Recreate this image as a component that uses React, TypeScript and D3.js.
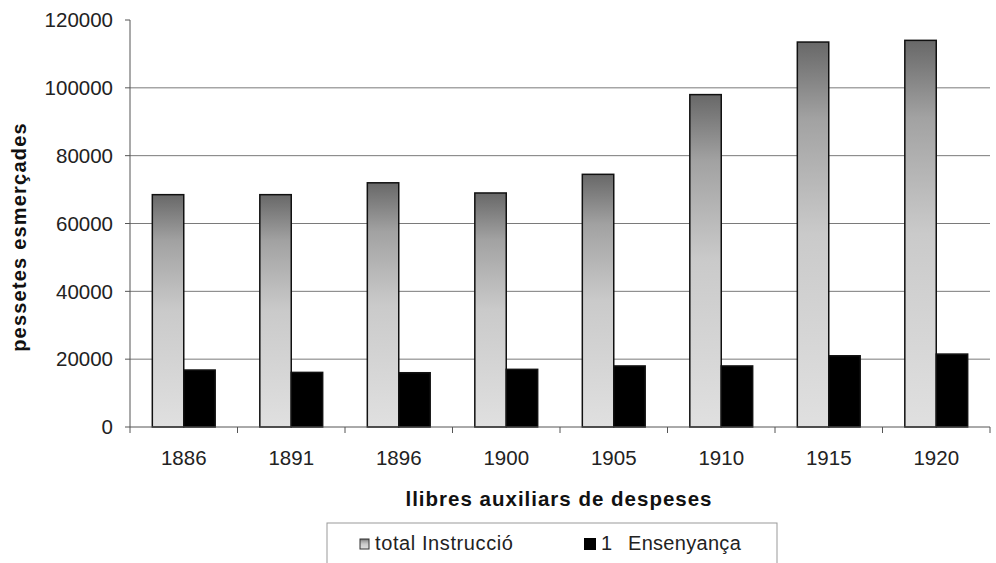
import * as d3 from "d3";

const years = ["1886", "1891", "1896", "1900", "1905", "1910", "1915", "1920"];
const totalInstruccio = [68500, 68500, 72000, 69000, 74500, 98000, 113500, 114000];
const ensenyanca = [16800, 16100, 16000, 17000, 18000, 18000, 21000, 21500];
const yTicks = [0, 20000, 40000, 60000, 80000, 100000, 120000];
const seriesNames = ["total Instrucció", "1  Ensenyança"];

const width = 996;
const height = 563;
const marginLeft = 130;
const marginRight = 6;
const marginTop = 20;
const plotBottom = 427;

export default function App() {
  const x = d3.scaleBand(years, [marginLeft, width - marginRight]);
  const x1 = d3
    .scaleBand(["total", "ens"], [0, x.bandwidth()])
    .paddingInner(0)
    .paddingOuter(0.71);
  const y = d3.scaleLinear([0, 120000], [plotBottom, marginTop]);

  const rows = years.map((yr, i) => ({
    year: yr,
    total: totalInstruccio[i],
    ens: ensenyanca[i],
  }));

  // "1  Ensenyança" -> number and word drawn a little apart, as in the original
  const [ensNum, ensWord] = seriesNames[1].split(/\s+/);

  return (
    <svg
      width={width}
      height={height}
      style={{ position: "absolute", left: 0, top: 0, background: "#fff" }}
      fontFamily="'Liberation Sans', Arial, sans-serif"
    >
      <defs>
        <linearGradient id="barGrad" x1="0" y1="1" x2="0" y2="0">
          <stop offset="0" stopColor="#e0e0e0" />
          <stop offset="0.5" stopColor="#cacaca" />
          <stop offset="0.8" stopColor="#a2a2a2" />
          <stop offset="1" stopColor="#686868" />
        </linearGradient>
      </defs>

      {/* gridlines */}
      <g stroke="#7a7a7a" strokeWidth="1">
        {yTicks.slice(1, -1).map((t) => (
          <line key={t} x1={marginLeft} x2={width - marginRight} y1={y(t)} y2={y(t)} />
        ))}
      </g>

      {/* y axis */}
      <g stroke="#555" strokeWidth="1">
        <line x1={marginLeft} x2={marginLeft} y1={y(120000)} y2={plotBottom} />
        {yTicks.map((t) => (
          <line key={t} x1={marginLeft - 5} x2={marginLeft} y1={y(t)} y2={y(t)} />
        ))}
      </g>
      <g fontSize="20.5" fill="#222" textAnchor="end">
        {yTicks.map((t) => (
          <text key={t} x={113} y={y(t)} dy="0.35em">
            {t}
          </text>
        ))}
      </g>

      {/* bars */}
      {rows.map((d) => (
        <g key={d.year} transform={`translate(${x(d.year)},0)`} stroke="#111" strokeWidth="1.5">
          <rect
            x={x1("total")}
            y={y(d.total)}
            width={x1.bandwidth()}
            height={plotBottom - y(d.total)}
            fill="url(#barGrad)"
          />
          <rect
            x={x1("ens")}
            y={y(d.ens)}
            width={x1.bandwidth()}
            height={plotBottom - y(d.ens)}
            fill="#000"
          />
        </g>
      ))}

      {/* x axis */}
      <g stroke="#555" strokeWidth="1">
        <line x1={marginLeft} x2={width - marginRight} y1={plotBottom} y2={plotBottom} />
        {years.map((yr) => (
          <line key={yr} x1={x(yr)} x2={x(yr)} y1={plotBottom} y2={plotBottom + 6} />
        ))}
        <line x1={width - marginRight} x2={width - marginRight} y1={plotBottom} y2={plotBottom + 6} />
      </g>
      <g fontSize="20.5" fill="#222" textAnchor="middle">
        {years.map((yr) => (
          <text key={yr} x={(x(yr) ?? 0) + x.bandwidth() / 2} y={465}>
            {yr}
          </text>
        ))}
      </g>

      {/* axis titles */}
      <text x={559} y={506} textAnchor="middle" fontSize="20.5" fontWeight="bold" fill="#111" letterSpacing="1">
        llibres auxiliars de despeses
      </text>
      <text
        transform={`translate(26,237) rotate(-90)`}
        textAnchor="middle"
        fontSize="20"
        fontWeight="bold"
        fill="#111"
        letterSpacing="1.2"
      >
        pessetes esmerçades
      </text>

      {/* legend */}
      <g>
        <rect x={327} y={523} width={450} height={50} fill="#fff" stroke="#999" />
        <rect x={360} y={539} width={9} height={10} fill="url(#barGrad)" stroke="#333" />
        <text x={375} y={550} fontSize="20" fill="#222" letterSpacing="0.6">
          {seriesNames[0]}
        </text>
        <rect x={584} y={538} width={12} height={12} fill="#000" />
        <text y={550} fontSize="20" fill="#222" letterSpacing="0.3">
          <tspan x={601}>{ensNum}</tspan>
          <tspan x={628}>{ensWord}</tspan>
        </text>
      </g>
    </svg>
  );
}
